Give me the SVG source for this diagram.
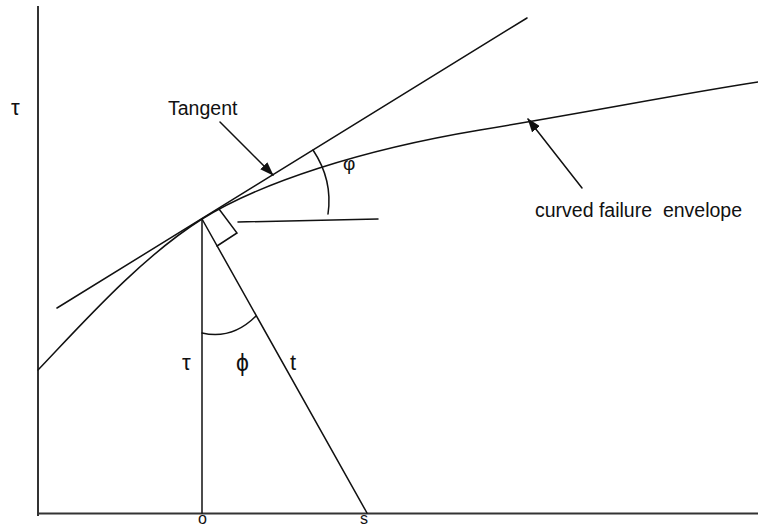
<svg xmlns="http://www.w3.org/2000/svg" width="758" height="525" viewBox="0 0 758 525">
<style>
.ln{fill:none;stroke:#111;stroke-width:1.5;stroke-linecap:round}
.ax{fill:none;stroke:#333;stroke-width:2}
.lbl{font-family:"Liberation Sans",Arial,sans-serif;font-size:19.5px;fill:#111}
.gk{font-family:"Liberation Sans","DejaVu Sans",sans-serif;font-size:22px;fill:#111}
.ax-lbl{font-family:"Liberation Sans",Arial,sans-serif;font-size:16px;fill:#111}
</style>
<defs>
<marker id="ah" viewBox="0 0 14 10" refX="13" refY="5" markerWidth="14" markerHeight="10" markerUnits="userSpaceOnUse" orient="auto">
<path d="M0,0 L14,5 L0,10 z" fill="#111"/>
</marker>
</defs>
<rect width="758" height="525" fill="#fff"/>
<g id="axes">
<line class="ax" x1="38" y1="6" x2="38" y2="516"/>
<line class="ax" x1="37" y1="513.5" x2="758" y2="513.5"/>
</g>
<g id="envelope">
<path class="ln" d="M38,370 C80,326 140,258 202,219 C260,183 360,150 480,130 S680,94 758,82"/>
</g>
<g id="tangent">
<line class="ln" x1="57" y1="308" x2="527" y2="18"/>
</g>
<g id="construction">
<line class="ln" x1="202" y1="219" x2="202" y2="513"/>
<line class="ln" x1="202" y1="219" x2="367" y2="513"/>
<polyline class="ln" points="219,209 237,233 217,246"/>
<line class="ln" x1="238" y1="222" x2="378" y2="219"/>
<path class="ln" d="M313,150 Q333,180 328,214"/>
<path class="ln" d="M202,333 C215,336 235,337 256,316"/>
</g>
<g id="connectors">
<line class="ln" x1="220" y1="122" x2="273" y2="175" marker-end="url(#ah)"/>
<line class="ln" x1="582" y1="188" x2="528" y2="119" marker-end="url(#ah)"/>
</g>
<g id="labels">
<text class="gk" x="11" y="115">τ</text>
<text class="lbl" x="168" y="115">Tangent</text>
<text class="gk" x="343" y="170" style="font-size:19px">φ</text>
<text class="lbl" x="535" y="217" xml:space="preserve">curved failure  envelope</text>
<text class="gk" x="182" y="370">τ</text>
<text class="gk" x="242.5" y="371" text-anchor="middle" style="font-size:23px">ϕ</text>
<text class="gk" x="290" y="370">t</text>
<text class="ax-lbl" x="198" y="523.5">o</text>
<text class="ax-lbl" x="360" y="523.5">s</text>
</g>
</svg>
